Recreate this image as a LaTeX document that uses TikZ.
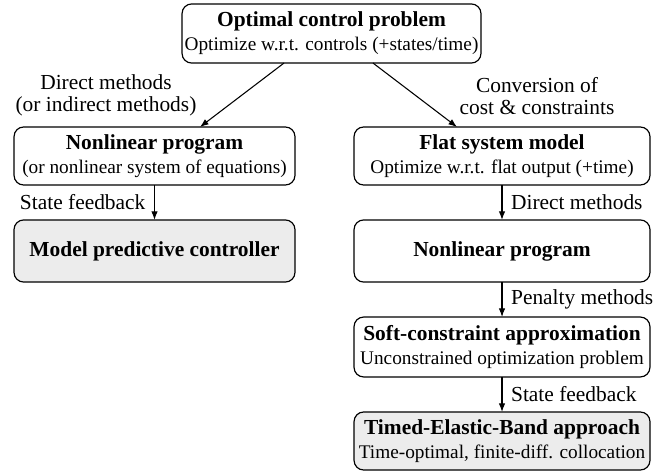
\documentclass[tikz,border=0pt]{standalone}
\usepackage{fontspec}
\setmainfont{Liberation Serif}
\usetikzlibrary{arrows.meta,calc}
\newcommand{\mysubline}[1]{{\fontsize{9}{11.2}\selectfont #1}}
\begin{document}
\begin{tikzpicture}[x=0.467pt,y=-0.467pt,
  box/.style={draw, rounded corners=4.5pt, line width=0.55pt, align=center,
    inner sep=0pt, outer sep=0pt, font=\rmfamily\fontsize{10}{11.2}\selectfont},
  shadedbox/.style={box, fill=gray!15},
  leftcol/.style={minimum width=131.2pt},
  rightcol/.style={minimum width=138.2pt},
  lbl/.style={font=\rmfamily\fontsize{10}{10.4}\selectfont, align=center, inner sep=0pt},
  elbl/.style={font=\rmfamily\fontsize{10}{11}\selectfont, inner sep=4pt},
  arr/.style={-{Latex[length=4pt,width=3pt]}, line width=0.5pt}]
\useasboundingbox (0,0) rectangle (665,471);

\node[box, minimum width=139.6pt, minimum height=27.6pt] (ocp) at (331.5,33.5)
  {\textbf{Optimal control problem}\\\mysubline{Optimize w.r.t. controls (+states/time)}};

\node[box, leftcol, minimum height=27.1pt] (nlpL) at (154.5,156)
  {\textbf{Nonlinear program}\\\mysubline{(or nonlinear system of equations)}};
\node[shadedbox, leftcol, minimum height=29pt] (mpc) at (154.5,251)
  {\textbf{Model predictive controller}};

\node[box, rightcol, minimum height=27.1pt] (flat) at (502,156)
  {\textbf{Flat system model}\\\mysubline{Optimize w.r.t. flat output (+time)}};
\node[box, rightcol, minimum height=29pt] (nlpR) at (502,251)
  {\textbf{Nonlinear program}};
\node[box, rightcol, minimum height=28pt] (soft) at (502,347)
  {\textbf{Soft-constraint approximation}\\\mysubline{Unconstrained optimization problem}};
\node[shadedbox, rightcol, minimum height=27.1pt] (teb) at (502,441)
  {\textbf{Timed-Elastic-Band approach}\\\mysubline{Time-optimal, finite-diff. collocation}};

\node[lbl] (lblL) at (106,95) {Direct methods\\(or indirect methods)};
\node[lbl] (lblR) at (537,96) {Conversion of\\cost \& constraints};

\draw[arr] ($(ocp.south)+(-47.5,0)$) -- ($(nlpL.north)+(45.5,0)$);
\draw[arr] ($(ocp.south)+(41.5,0)$) -- ($(flat.north)+(-45,0)$);

\draw[arr] (nlpL.south) -- node[midway, left, elbl] {State feedback} (mpc.north);
\draw[arr] (flat.south) -- node[midway, right, elbl] {Direct methods} (nlpR.north);
\draw[arr] (nlpR.south) -- node[midway, right, elbl] {Penalty methods} (soft.north);
\draw[arr] (soft.south) -- node[midway, right, elbl] {State feedback} (teb.north);
\end{tikzpicture}
\end{document}
